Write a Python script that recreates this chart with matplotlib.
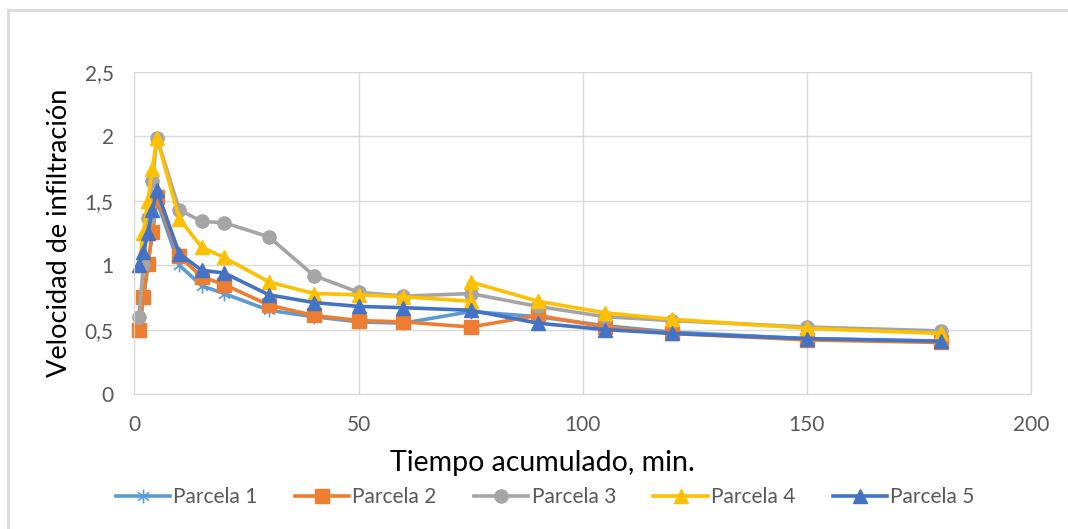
import matplotlib.pyplot as plt
from matplotlib.patches import Rectangle
from matplotlib.path import Path

# tiempos (min)
tiempo = [1, 2, 3, 4, 5, 10, 15, 20, 30, 40, 50, 60, 75, 90, 105, 120, 150, 180]
tiempo_p4 = [1, 2, 3, 4, 5, 10, 15, 20, 30, 40, 50, 60, 75, 75, 90, 105, 120, 150, 180]

parcela_1 = [0.50, 0.75, 1.00, 1.25, 1.50, 1.00, 0.84, 0.78, 0.65, 0.60, 0.56, 0.55, 0.64, 0.60, 0.53, 0.48, 0.43, 0.41]
parcela_2 = [0.50, 0.75, 1.01, 1.26, 1.53, 1.07, 0.91, 0.85, 0.69, 0.61, 0.57, 0.56, 0.52, 0.61, 0.52, 0.47, 0.42, 0.40]
parcela_3 = [0.60, 1.00, 1.37, 1.65, 1.99, 1.43, 1.34, 1.33, 1.22, 0.92, 0.79, 0.76, 0.78, 0.68, 0.60, 0.57, 0.52, 0.49]
parcela_4 = [1.00, 1.25, 1.50, 1.75, 1.99, 1.36, 1.14, 1.06, 0.87, 0.78, 0.77, 0.755, 0.72, 0.87, 0.72, 0.63, 0.58, 0.51, 0.47]
parcela_5 = [1.00, 1.10, 1.25, 1.43, 1.58, 1.09, 0.96, 0.94, 0.77, 0.71, 0.68, 0.67, 0.65, 0.55, 0.50, 0.47, 0.43, 0.41]

# asterisco estilo Excel
asterisco = Path([(0, -1), (0, 1), (-0.8, -0.6), (0.8, 0.6), (-0.8, 0.6), (0.8, -0.6)],
                 [Path.MOVETO, Path.LINETO, Path.MOVETO, Path.LINETO, Path.MOVETO, Path.LINETO])

series = [
    ("Parcela 1", tiempo, parcela_1, "#5B9BD5", asterisco),
    ("Parcela 2", tiempo, parcela_2, "#ED7D31", "s"),
    ("Parcela 3", tiempo, parcela_3, "#A5A5A5", "o"),
    ("Parcela 4", tiempo_p4, parcela_4, "#FFC000", "^"),
    ("Parcela 5", tiempo, parcela_5, "#4472C4", "^"),
]

plt.rcParams['font.family'] = ['Lato', 'DejaVu Sans']

fig = plt.figure(figsize=(10.68, 5.29), dpi=100)
fig.patches.append(Rectangle((8 / 1068, -0.1), 1.2, 1 - 10 / 529 + 0.1,
                             transform=fig.transFigure, fill=False,
                             edgecolor="#d9d9d9", linewidth=2))
ax = fig.add_axes([0.1259, 0.2552, 0.8395, 0.6087])

for name, x, y, c, m in series:
    if m is asterisco:
        ax.plot(x, y, color=c, marker=m, markersize=10, markeredgewidth=1.2,
                linewidth=2.6, label=name, clip_on=False)
    else:
        ax.plot(x, y, color=c, marker=m, markersize=9.5, linewidth=2.6,
                label=name, markeredgecolor=c, clip_on=False)

ax.set_xlim(0, 200)
ax.set_ylim(0, 2.5)
ax.set_xticks([0, 50, 100, 150, 200])
ax.set_yticks([0, 0.5, 1, 1.5, 2, 2.5])
ax.set_yticklabels(["0", "0,5", "1", "1,5", "2", "2,5"])
ax.grid(True, color="#d9d9d9", linewidth=1)
ax.set_axisbelow(True)
for s in ax.spines.values():
    s.set_color("#d9d9d9")
ax.tick_params(length=0, labelsize=15, colors="#595959", pad=15)

ax.set_xlabel("Tiempo acumulado, min.", fontsize=20.5, color="black", labelpad=10)
ax.xaxis.set_label_coords(0.4546, -0.175)
ax.set_ylabel("Velocidad de infiltración", fontsize=19.5, color="black", labelpad=9)

leg = ax.legend(loc="upper center", bbox_to_anchor=(0.458, -0.23), ncol=5,
                frameon=False, fontsize=15, handlelength=2.6,
                columnspacing=1.8, handletextpad=0.15)
for t in leg.get_texts():
    t.set_color("#595959")

fig.savefig("out.png", dpi=100)
